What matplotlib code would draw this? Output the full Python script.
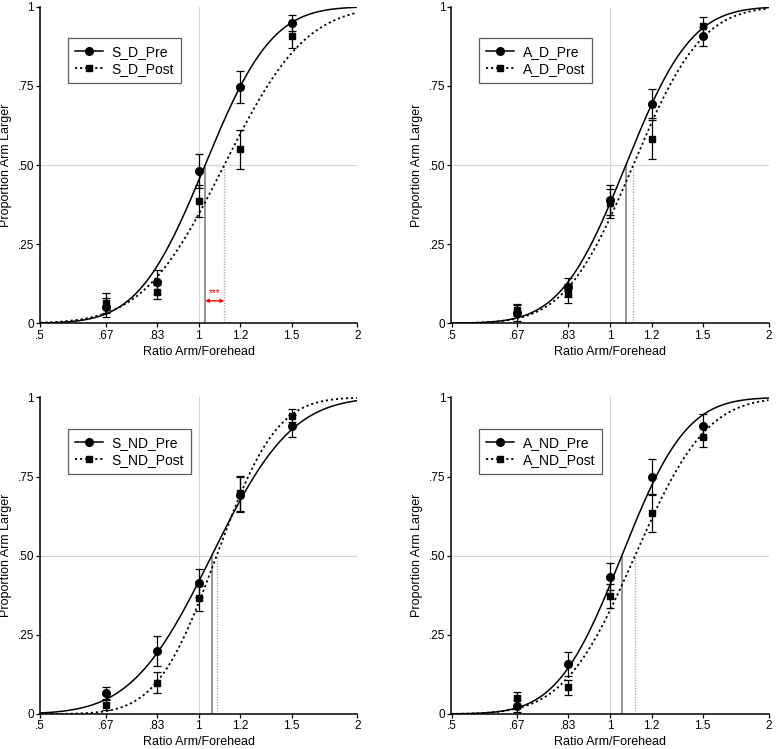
import numpy as np
import matplotlib
matplotlib.use("Agg")
import matplotlib.pyplot as plt
from math import erf, sqrt

plt.rcParams['font.family'] = ['Liberation Sans', 'DejaVu Sans']

# ---- data ----
levels = [0.667, 0.833, 1.0, 1.2, 1.5]
xtick_vals = [0.5, 0.667, 0.833, 1.0, 1.2, 1.5, 2.0]
xtick_labels = ['.5', '.67', '.83', '1', '1.2', '1.5', '2']
ytick_vals = [0, 0.25, 0.5, 0.75, 1]
ytick_labels = ['0', '.25', '.50', '.75', '1']

panel_names = [('S_D_Pre', 'S_D_Post'), ('A_D_Pre', 'A_D_Post'),
               ('S_ND_Pre', 'S_ND_Post'), ('A_ND_Pre', 'A_ND_Post')]

pre_vals = [[0.050, 0.131, 0.481, 0.747, 0.948],
            [0.033, 0.114, 0.389, 0.693, 0.907],
            [0.067, 0.199, 0.413, 0.692, 0.910],
            [0.025, 0.158, 0.434, 0.750, 0.910]]
pre_err = [[0.030, 0.037, 0.055, 0.050, 0.025],
           [0.025, 0.030, 0.048, 0.046, 0.030],
           [0.019, 0.048, 0.045, 0.055, 0.034],
           [0.020, 0.037, 0.042, 0.055, 0.038]]
post_vals = [[0.065, 0.098, 0.386, 0.550, 0.907],
             [0.042, 0.095, 0.379, 0.581, 0.939],
             [0.028, 0.099, 0.365, 0.697, 0.942],
             [0.050, 0.084, 0.374, 0.634, 0.876]]
post_err = [[0.032, 0.022, 0.050, 0.062, 0.037],
            [0.020, 0.030, 0.045, 0.062, 0.030],
            [0.016, 0.034, 0.039, 0.055, 0.021],
            [0.020, 0.024, 0.038, 0.059, 0.034]]

# fitted psychometric functions (PSE, sigma in log units)
pre_pse = [1.028, 1.072, 1.058, 1.053]
pre_sigma = [0.23, 0.225, 0.275, 0.222]
post_pse = [1.118, 1.107, 1.081, 1.116]
post_sigma = [0.28, 0.235, 0.205, 0.245]

sig_panel = 0
sig_label = '***'


def cdf(x, pse, s):
    z = (np.log(x) - np.log(pse)) / s
    return np.array([0.5 * (1 + erf(v / sqrt(2))) for v in z])


W, H = 777, 749
fig = plt.figure(figsize=(W / 100, H / 100), dpi=100)

lefts = [40.3, 451.5]
tops = [6.7, 397.4]
aw, ah = 317, 316.6

xs = np.exp(np.linspace(np.log(0.5), np.log(2.0), 400))

for i in range(4):
    r, c = divmod(i, 2)
    ax = fig.add_axes([lefts[c] / W, 1 - (tops[r] + ah) / H, aw / W, ah / H])
    ax.set_xscale('log')
    ax.set_xlim(0.5, 2.0)
    ax.set_ylim(0, 1)
    ax.minorticks_off()

    # reference lines
    ax.axvline(1.0, color='#d4d4d4', lw=0.8, zorder=0)
    ax.axhline(0.5, color='#d4d4d4', lw=0.8, zorder=0)
    ax.plot([pre_pse[i], pre_pse[i]], [0, 0.5], color='#777777', lw=1.1, zorder=1)
    ax.plot([post_pse[i], post_pse[i]], [0, 0.5], color='#aaaaaa', lw=1.0,
            ls=(0, (1, 1)), zorder=1)

    # curves
    ax.plot(xs, cdf(xs, pre_pse[i], pre_sigma[i]), color='black', lw=1.1, zorder=2)
    ax.plot(xs, cdf(xs, post_pse[i], post_sigma[i]), color='black', lw=1.3,
            ls=(0, (1.2, 1.6)), zorder=2)

    # data
    ax.errorbar(levels, post_vals[i], yerr=post_err[i], fmt='s', color='black',
                ms=4.5, capsize=3, elinewidth=0.9, capthick=0.9, zorder=3)
    ax.errorbar(levels, pre_vals[i], yerr=pre_err[i], fmt='o', color='black',
                ms=5.5, capsize=3, elinewidth=0.9, capthick=0.9, zorder=4)

    # legend handles
    h1, = ax.plot([], [], color='black', lw=1.1, marker='o', ms=5.5)
    h2, = ax.plot([], [], color='black', lw=1.3, ls=(0, (1.2, 1.6)), marker='s', ms=4.5)
    leg = ax.legend([h1, h2], list(panel_names[i]), loc='upper left',
                    bbox_to_anchor=(28 / aw, 1 - 31.6 / ah), borderaxespad=0,
                    fontsize=10, frameon=True, fancybox=False, handlelength=2.0,
                    handletextpad=0.6, labelspacing=0.2, borderpad=0.5)
    leg.get_frame().set_edgecolor('#333333')
    leg.get_frame().set_linewidth(0.9)

    if i == sig_panel:
        yarr = 0.071
        ax.annotate('', xy=(post_pse[i], yarr), xytext=(pre_pse[i], yarr),
                    arrowprops=dict(arrowstyle='<|-|>', color='red', lw=1.0,
                                    mutation_scale=5, shrinkA=0, shrinkB=0))
        ax.text(np.sqrt(pre_pse[i] * post_pse[i]), yarr + 0.01, sig_label,
                color='red', ha='center', va='bottom', fontsize=7)

    for s in ['top', 'right']:
        ax.spines[s].set_visible(False)
    for s in ['left', 'bottom']:
        ax.spines[s].set_linewidth(1.1)
    ax.set_xticks(xtick_vals)
    ax.set_xticklabels(xtick_labels)
    ax.set_yticks(ytick_vals)
    ax.set_yticklabels(ytick_labels)
    ax.tick_params(direction='out', length=3, width=0.9, labelsize=8.5, pad=1.5)
    ax.set_xlabel('Ratio Arm/Forehead', fontsize=9, labelpad=3)
    ax.set_ylabel('Proportion Arm Larger', fontsize=9, labelpad=4)

fig.savefig('out.png', dpi=100)
